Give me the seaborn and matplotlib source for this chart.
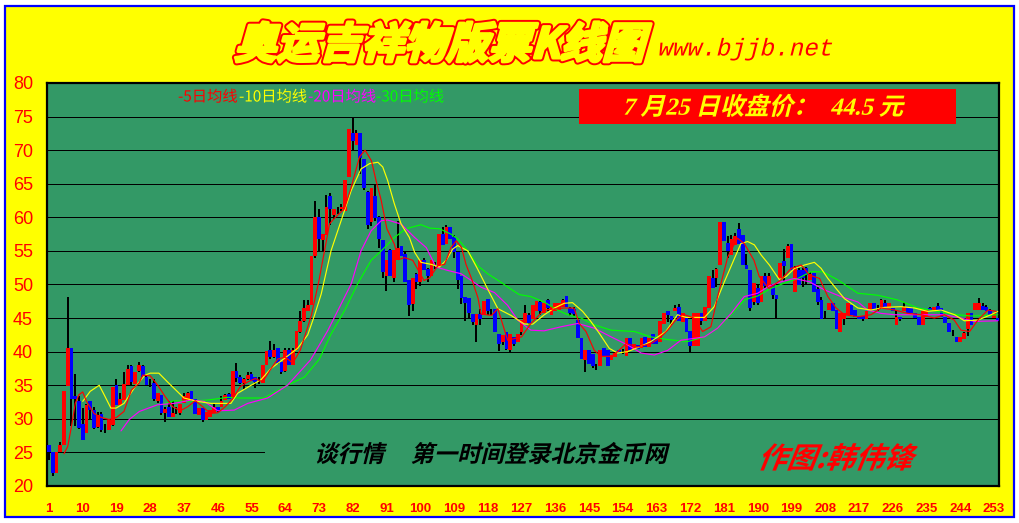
import numpy as np
import pandas as pd
import matplotlib
matplotlib.use('Agg')
import matplotlib.pyplot as plt
import matplotlib.patheffects as pe
from matplotlib.patches import Rectangle
from matplotlib.transforms import Affine2D
import seaborn as sns

# K-line values, ten days per row
opens = [26.1,25,21.9,25,26.1,34.9,40.6,33.4,32.7,29.3,
         27.9,32.7,31.3,28.8,30.7,28.6,28.3,29.1,35,32.1,
         32.8,35,37.9,35.2,37.1,37.9,36.3,35.4,35.3,32.6,
         33.6,30.8,31.7,30.2,31.2,30.8,32.3,32.8,34.1,32.9,
         30.5,31.6,29.8,30.3,30.8,31.7,31.7,32.8,33.7,33.3,
         37.1,36.3,35.4,35.9,36.7,36.2,35.7,35.3,38,40.2,
         39.2,40.5,38.4,37.1,40.2,38,40.2,43,44.5,46.1,
         47,54.3,60.1,56.6,57.3,63.2,60.4,61.2,61.2,61,
         66,72.6,70.8,72.6,68.7,63.7,59.3,63.2,60.1,56.6,
         51.3,55.2,50.9,53.7,55.7,54.6,50.6,47.1,51.6,50.3,
         53.7,52.3,51.3,53,52.7,57.5,56,58.6,57,54.8,
         51.2,48.2,48,45.6,43.9,45.6,45.4,47.8,45.8,46.4,
         42.6,41.4,43,40.3,42.2,41.4,43,44.3,45.5,44.8,
         46,47.4,45.7,47.7,45.5,46.1,46.2,46.6,48.3,46.5,
         46.4,44.7,42.1,38.7,40.2,39.6,37.8,37.9,40.6,40.2,
         38.8,39.2,40.3,40,39.4,42,40.2,41,40.6,42.2,
         40.7,42.6,42.2,41.5,44.1,46,45.3,46,46.6,44.4,
         45,43.1,40.9,40.9,45.7,44.5,46.5,51,51,52.9,
         59.3,56.2,54.4,55.9,58.3,57.4,52.9,52.2,47.4,49.5,
         47.4,51.3,49.6,49.9,48.4,50.9,53.5,53.9,56,48.9,
         52.1,52.1,52.4,50.7,51.7,49.4,47.7,45.5,46.2,47.2,
         46.2,43,44.8,45.5,46.9,46.2,45.3,45.3,44.9,46.2,
         47.2,46.5,46.5,47.2,46.5,46.5,44,45.2,46,46.6,
         46.6,45.7,45.2,44,45.2,46.5,46,46.8,46.5,45.2,
         44.2,42.8,42.2,41.5,41.9,43.4,45.7,46.2,46.2,46.8,
         46.7,46.2,45,45]
closes = [25,21.9,25,26.1,34.2,40.6,33,33,28.7,26.9,
          32,31.3,28.7,30.6,28.3,28.6,29.9,34.8,32.1,32.9,
          35.2,37.4,35.5,36.9,38,36.3,35,35.4,33,33.8,
          30.8,31.4,30.3,30.8,31.2,32.2,33.4,33.9,32.9,30.7,
          31.6,29.8,31,31.3,31.8,31.1,32.6,33.6,33,37.1,
          36.1,35.3,36,36.5,35.7,35.5,35.7,38,40.1,39.2,
          40.3,38.3,36.9,40.2,38,40.2,43.1,44.5,46.5,47,
          54.2,60.1,56.8,57.5,61.6,61.3,61.2,61.2,61.5,65.6,
          73.2,71.4,72.6,68.8,64.4,58.9,64.4,59.9,56.8,51.8,
          53.7,51.3,55.2,55.5,54.3,50.3,47,50.9,50.3,53.6,
          52.2,51.2,53.7,53,57.5,55.9,58.6,56.7,54.8,50.6,
          48,47.3,45.7,44.4,45.6,44.9,47.6,46.1,45.8,42.9,
          41.2,42.5,40.4,42.6,41.2,42.6,44.7,45.8,44.3,46.9,
          47.5,46,47.2,46.5,46.8,47.2,47.2,47.7,46.6,45.7,
          45.6,42,38.9,40.2,38.2,37.9,37.8,40.2,39.4,37.9,
          39.5,39.8,39.8,40,42.1,40.2,41.1,40.4,42,40.7,
          42.1,41.2,41.1,44.6,45.7,45.4,44.7,46.5,44.5,45.7,
          43,40.9,45.7,45.7,44.5,46.6,51.3,49.5,52.3,59.3,
          56.5,55,56.7,57.2,56.1,52.9,52.3,46.5,50.2,47.2,
          51.3,49.8,51.3,48.4,47.8,53.2,52.8,55.7,52.1,52.4,
          49.9,50.9,51.4,51.6,48.9,47.4,44.9,45.5,47.2,46,
          43.4,45.7,45.7,47.3,45.5,45.2,44.8,44.8,46,47.2,
          46.2,46.5,47.7,46.5,47.2,46,45.2,44.8,46.7,45.7,
          45.7,45,44,46,46.2,46,46.6,46,45.2,44.2,
          43,42.8,41.5,42.2,42.8,45.7,44,47.2,47.2,46.2,
          46.1,45.5,45.7,44.5]
highs = [26.1,25,25,26.5,34.2,48.2,40.6,36.7,33.4,31.6,
         32.2,32.7,31.7,31,31,29.2,29.9,34.8,36,33.8,
         37,38,38,37,38.4,38,36.5,35.9,35.9,33.8,
         33.6,31.8,32.6,32.6,31.8,32.2,33.8,34,34.1,33,
         31.6,31.6,31,31.3,32.2,31.8,33.4,33.7,33.8,37.1,
         38.3,36.5,36.1,37,36.9,36.3,36.2,38,40.1,41.6,
         41.2,40.6,38.4,40.5,40.5,40.5,43.1,46,47.7,47.7,
         54.2,62.4,61.3,57.5,63.3,63.6,61.2,61.5,62,65.6,
         73.2,75,73,72.6,68.7,63.9,64.4,65,60.2,56.6,
         53.7,55.3,55.2,59.5,55.7,54.8,50.6,50.9,51.7,53.6,
         53.9,52.4,53.7,53.3,57.5,58.6,58.8,58.6,57.3,54.8,
         51.2,48.2,48,45.6,45.6,46.3,47.6,47.8,46.3,46.4,
         42.6,42.5,43,42.6,42.2,42.6,44.7,47,45.8,47,
         47.5,47.5,47.3,47.9,46.8,47.2,47.2,47.9,48.3,46.6,
         46.6,44.7,42.1,40.2,40.2,39.6,38.1,40.2,40.6,40.2,
         39.5,39.8,40.3,40.4,42.1,42,41.1,41,42,42.2,
         42.1,42.6,42.2,44.6,45.7,46,45.3,46.9,47.1,45.7,
         45,43.1,45.7,45.7,45.7,46.6,51.3,52.1,52.4,59.3,
         59.3,57.2,57.4,57.6,59.1,57.4,54.5,52.2,50.2,50,
         51.3,51.7,51.7,50,48.4,53.2,55.3,56,56,52.8,
         52.4,52.5,52.6,51.8,51.7,49.6,48.2,46.1,47.2,47.2,
         46.2,45.7,45.7,47.3,46.9,46.2,45.3,45.3,46,47.2,
         47.2,47,47.8,47.7,47.2,46.5,46.2,45.2,47.4,46.6,
         46.6,45.7,45.2,46,46.2,46.6,46.6,47.2,46.5,45.2,
         44.2,43.3,42.2,42.2,43,45.7,45.7,47.2,48,47.2,
         46.9,46.3,45.8,45]
lows = [23.9,21.5,21.9,25,26.1,34.9,29,29,28.5,26.9,
        27.9,30,28.5,28.6,28,27.9,28.3,29,32,32,
        32.8,35,35,35.2,37,36.3,35,34.8,32.6,32.4,
        30.5,29.6,30.2,30.2,30.7,30.5,32.3,32.6,32.7,30.7,
        30.5,29.6,29.8,30.3,30.8,31,31.7,32.8,33,33.3,
        35.5,35.2,34.4,35.8,35.6,34.6,35.2,35.3,38,38.9,
        39,38.2,36.7,37,38,38,40.2,42.8,44.4,46,
        47,53.9,55,55,57.3,58.8,59.8,60.5,61,61,
        66,70,70.8,66.5,64,58.2,58.7,59.5,55.4,50.9,
        49,51.3,50.3,53.7,54.2,50.3,45.3,46.1,49.4,49.8,
        52.1,50.3,51.3,52.3,52.7,55.9,56,56.7,54,49.3,
        47.1,44.5,45,43.9,41.5,44,45.4,45.4,45.5,42.9,
        40.1,41,40.2,39.8,40.8,41.4,42.5,44.3,44,44.8,
        46,45.5,45.7,46,45.5,46.1,46.2,46.6,46.6,45.3,
        45.3,42,38.9,36.9,38.1,37.6,37.2,37.9,39.4,37.9,
        38.8,39.2,39.8,39.6,39.4,40.2,40.2,40.4,40.6,40.7,
        40.7,41.2,41.1,41.5,44.1,44.4,44,46,44.5,44.4,
        43,40,40.9,40.9,44,44.5,46.5,49.5,49.6,52.9,
        56.5,54,54.4,55.9,56.1,52.9,52.3,46.1,47,47,
        47.4,49.5,49.6,47.9,45,50.9,50.5,53.9,52.1,48.9,
        49.9,49.7,50,50.7,48.9,47,44.9,44.9,46.2,46,
        43.4,43,44,45.5,45.5,45.2,44.8,44.5,44.9,46.2,
        46.2,46,46.5,46.5,46.5,46,44,44.5,46,45.7,
        45.7,45,44,44,45.2,46,46,46,45.2,44.2,
        43,42.4,41.5,41.5,41.9,42.3,44,46.2,46.2,46.2,
        46.1,45.5,45,44.5]

# moving averages
ma5_days = [5,6,7,8,9,10,11,13,15,17,19,21,23,25,26,28,30,32,34,36,38,40,42,44,46,48,50,52,54,56,58,60,62,64,66,68,70,71,73,
            75.8,77,79.8,81.6,83.8,85.3,87,88.2,89.6,91.1,93.1,94.2,95.8,98,101,102.5,104.7,106.5,108.2,109.6,111,112.2,113.6,115.4,116.2,119,120.7,123.3,
            127,129.5,133,138.4,141,142.4,144.2,146.4,148.2,150.9,152.6,154.9,158,161.5,163.8,166,167.8,170,173,175.3,177.5,179.3,182,184.6,186.4,189,190.4,
            193,196.2,198.9,201.6,203.8,206.5,208.7,210.9,213.1,216.7,220.2,222.9,226.5,230,233.6,237.1,239.8,242.4,244.2,246.5,248.7,251.4,253.6]
ma5_vals = [24.8,25.9,28.9,32.3,33.6,34,32.6,30.8,30.2,29.9,30.2,31.1,34.3,35.3,36.5,36.4,35,33.3,31.8,31.2,31.8,32.7,31.8,30.8,30.9,31.8,33,34.8,35.5,36,35.5,37.3,38.9,39.2,38.3,40.2,43.7,45.5,50.6,
            59,59.8,61.3,64.5,69,70,68.4,65.5,62.5,58.3,56,53.7,54,53.6,50.6,51,52.8,53,55.5,56.5,55.5,53,51,48,45.6,45.4,46.4,41.7,
            42.2,44.2,46.2,46.5,46.5,44.2,43,40.2,39.3,39.3,40,41.2,40.7,41.2,42,43.2,44.5,45.6,45,43,43.7,48.2,54.1,56.9,56.1,53.6,51.2,
            49.4,50.7,52.4,52.9,51.4,50.9,48.2,46.5,45.5,45.2,45.5,46.5,46.2,45.7,45.5,45,45.5,44.7,43.2,43,44.7,46.2,46]
ma10_days = [10,12,14.4,15.7,17.5,18.9,21,24,26.6,28,30.3,32.6,34.8,37,40.6,44.2,49.5,51.3,54.9,57.5,60.2,63.8,67.3,70,71.8,73.6,
             76.2,78.9,81.6,84.2,86.5,88.7,90,91.3,93.1,94.9,97.1,98.5,100.2,102.9,105.1,106.9,108.7,110,112.7,115.3,118,120.7,124.2,
             127.8,130,133.1,135.8,138.4,140.6,143.3,145.5,147.8,150.4,152.6,155.3,158.4,161.5,165.5,168.6,170.9,175.8,178.4,181.1,183.8,185.5,187.3,189.1,190.9,
             193.1,195.8,197.6,199.8,202.5,205.1,206.9,208.7,210.9,213.1,216.7,220.2,223.8,228.2,231.8,235.3,238.9,242.5,245.1,248.7,252.2,254]
ma10_vals = [32.6,34.1,35,33.6,31.6,31.6,32.3,34.8,36.5,36.8,36.8,35.5,34.3,33.1,32.6,32.3,32.3,33.8,35,35.8,37.5,39,40.5,42.5,45.4,48.6,
             55,59.5,64,67.2,68,68.2,67.5,65.5,62,59,57,54.8,53.3,53,52.6,53.6,55.3,55.8,55,52.3,49.3,46.4,45.4,
             44.1,44.1,45.5,46.5,47.2,47.3,46,44.5,42.7,40.5,39.8,40,40.7,41.5,43,45.5,45.1,45.1,46.7,50.4,53.9,56.1,56.4,55.9,54.4,
             52.9,50.7,51.2,52.4,52.9,53.3,52.4,50.9,49.4,47.9,46.5,46.2,46.6,46.7,46.5,46,46.2,45.5,44.6,44.7,45.5,46]
ma20_days = [20.2,22.4,25.1,30,34.4,38.9,42.4,46,50.4,54,59.3,64.6,70.8,75.3,78.9,81.6,84.2,86.9,89.6,91.3,94.9,98.5,101.6,104.2,107.3,110.9,113.6,116.2,119.8,123.3,
             126,129.5,133,137.5,142,146.4,150.9,155.3,158.9,162.4,166,169.5,175.8,179.3,182.9,186.4,190,193.1,
             196.2,199.8,203.8,207.8,212.2,216.7,219.3,222.9,226.5,235.3,239.8,244.2,247.8,254]
ma20_vals = [28.2,29.9,31.1,32.1,32.3,32.8,32.6,31.2,31.3,32.3,33.1,35,38.8,43.1,47.1,50.1,55,58,59.5,59.6,59,57,55.5,52.6,52.1,51.6,50.6,49.6,48.8,46.9,
             44.7,43.2,43.1,43.7,44.2,43.5,42.2,41,39.8,39.5,40.2,41.7,42.2,43.5,45.7,48.2,48.7,49.8,
             50.4,50.9,50.4,49.2,48.2,47.4,46.2,45.7,45.5,45.5,45.5,45,44.5,44.6]
ma30_days = [30.9,34.4,38,43.4,48.7,52.2,58.4,63.8,69.1,73.1,76.2,79.8,83.3,86.9,89.6,93.1,96.2,100.2,102.5,105.1,108.2,110,112.7,115.3,118,121.6,124.2,
             126.4,129.5,133,136.6,139.3,142.9,146.4,150.9,157.1,161.5,166,171.3,175.8,179.3,182.9,186.4,190,193.4,
             197.1,200.7,204.2,207.3,211.3,216.7,222,227.3,232.7,238,243.3,246.9,254]
ma30_vals = [32.1,32.7,32.6,32.8,33.2,33.1,33.1,34.8,36.2,38.9,42.6,46.1,50.1,53.6,55,57,58.3,58.9,58.4,58.3,57.5,56.8,55,52.8,51.6,50.3,49.3,
             48.5,48.2,47.4,46.2,45.5,45,44,43.2,43,42.2,41.8,41.5,42.2,43.5,45.5,47.7,48.3,49.4,
             50.2,50.9,51.9,51.9,50.7,48.7,48.4,47.7,46.5,46,45.5,45.3,45.5]

y_ticks = list(range(20, 85, 5))
x_ticks = list(range(1, 254, 9))
grid_levels = [25, 30, 35, 40, 45, 50, 55, 60, 65, 70, 75]
W, H = 1020, 523


class Slanted(pe.AbstractPathEffect):
    # no italic face for the CJK fonts, so shear the text path instead
    def __init__(self, deg=14, edge=None, lw=0):
        super().__init__()
        self.deg, self.edge, self.lw = deg, edge, lw

    def draw_path(self, renderer, gc, tpath, affine, rgbFace=None):
        m = affine.get_matrix()
        tx, ty = m[0, 2], m[1, 2]
        sheared = affine + Affine2D().translate(-tx, -ty).skew_deg(self.deg, 0).translate(tx, ty)
        gc0 = renderer.new_gc()
        gc0.copy_properties(gc)
        if self.edge:
            gc0.set_foreground(self.edge)
            gc0.set_linewidth(self.lw)
        renderer.draw_path(gc0, tpath, sheared, rgbFace)
        gc0.restore()


def label(x, y, s, size, color, family=None, weight='normal', deg=14, effects=None):
    fig.text(x / W, 1 - y / H, s, fontsize=size, color=color, ha='left', va='center', weight=weight,
             family=family or ['Noto Sans CJK SC', 'DejaVu Sans'], zorder=10,
             path_effects=effects or [Slanted(deg)])


sns.set_style('white')
plt.rcParams['font.family'] = ['Noto Sans CJK SC', 'DejaVu Sans']

df = pd.DataFrame({'open': opens, 'close': closes, 'high': highs, 'low': lows})
df['day'] = np.arange(1, len(df) + 1)
up = df[df['close'] > df['open']]
down = df[df['close'] < df['open']]

fig = plt.figure(figsize=(W / 100, H / 100), dpi=100, facecolor='white')
fig.add_artist(Rectangle((5 / W, 1 - 517 / H), 1009 / W, 511 / H, transform=fig.transFigure,
                         facecolor='#ffff00', edgecolor='#0000ff', linewidth=1.6, zorder=-5))

ax = fig.add_axes([47 / W, 1 - 486 / H, 951.5 / W, 403 / H], facecolor='#339966')
ax.set_xlim(0.47, 0.47 + 951.5 / 3.75)
ax.set_ylim(20, 80)

for level in grid_levels:
    # the 25 line stops where the caption box starts
    ax.hlines(level, 0.47, 58.3 if level == 25 else 255, color='black', lw=0.72, zorder=1, antialiased=False)

ax.vlines(df['day'], df['low'], df['high'], color='black', lw=1.44, zorder=2, antialiased=False)
ax.bar(up['day'], up['close'] - up['open'], bottom=up['open'], width=1.05, color='#ff0000', lw=0, zorder=3, antialiased=False)
ax.bar(down['day'], down['open'] - down['close'], bottom=down['close'], width=1.05, color='#0000ff', lw=0, zorder=3, antialiased=False)

for days, vals, col in [(ma30_days, ma30_vals, '#00ff00'), (ma20_days, ma20_vals, '#ff00ff'),
                        (ma10_days, ma10_vals, '#ffff00'), (ma5_days, ma5_vals, '#ff0000')]:
    sns.lineplot(x=days, y=vals, ax=ax, color=col, lw=0.85, estimator=None, sort=False, zorder=4)

ax.set_xticks(x_ticks)
ax.set_yticks(y_ticks)
ax.set_xticklabels([str(t) for t in x_ticks], color='#ff0000', fontsize=9.5, fontweight='bold', family='Liberation Sans')
ax.set_yticklabels([str(t) for t in y_ticks], color='#ff0000', fontsize=13, family='Liberation Sans')
ax.tick_params(axis='both', length=0)
ax.tick_params(axis='x', pad=12.5)
ax.tick_params(axis='y', pad=10)
ax.set_xlabel('')
ax.set_ylabel('')
for side in ax.spines.values():
    side.set_color('black')
    side.set_linewidth(1.6)

ax.add_patch(Rectangle((579 / W, 1 - 124 / H), 377 / W, 35 / H, transform=fig.transFigure,
                       facecolor='#ff0000', edgecolor='none', zorder=6, clip_on=False))

# headline and captions
label(234, 46, '奥运吉祥物版票K线图', 30.5, '#ffff00', weight='bold',
      effects=[Slanted(16, '#ff0000', 5.0), Slanted(16, '#ffff00', 2.2)])
label(657, 49, 'www.bjjb.net', 17.5, '#ff0000', family=['Liberation Mono'], deg=14)
label(622, 108, '7 月25 日收盘价：  44.5 元', 17.6, '#ffff00', family=['Liberation Serif', 'Noto Sans CJK SC'], weight='bold')
label(178, 97, '-5日均线', 11, '#ff0000', deg=0)
label(239, 97, '-10日均线', 11, '#ffff00', deg=0)
label(308, 97, '-20日均线', 11, '#ff00ff', deg=0)
label(376, 97, '-30日均线', 11, '#00ff00', deg=0)
label(314, 455, '谈行情     第一时间登录北京金币网', 16.8, 'black', weight='bold')
label(757, 459, '作图:韩伟锋', 21, '#ff0000', weight='black', deg=22)

plt.savefig('out.png', dpi=100, facecolor='white')
